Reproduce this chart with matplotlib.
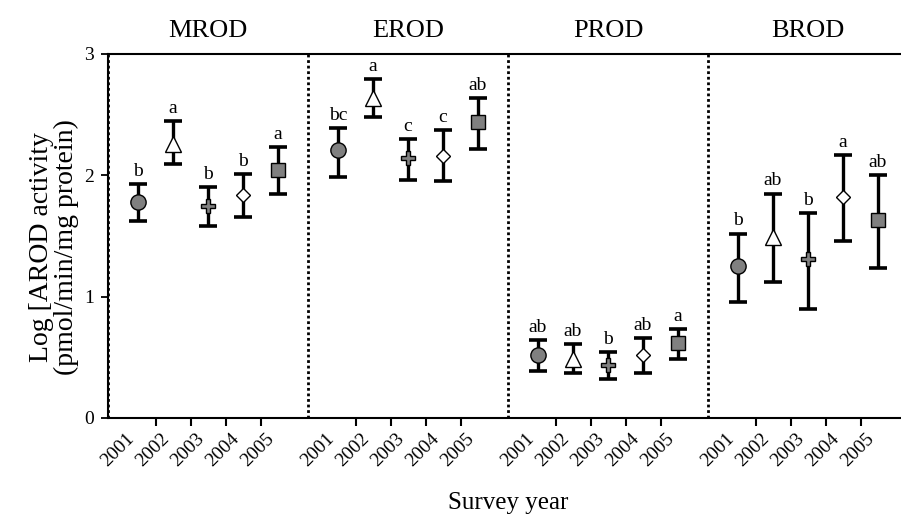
import matplotlib
matplotlib.use("Agg")
import matplotlib.pyplot as plt
import numpy as np

plt.rcParams['font.family'] = ['Liberation Serif', 'DejaVu Serif']

# ---- data ----
assays = ["MROD", "EROD", "PROD", "BROD"]
years = ["2001", "2002", "2003", "2004", "2005"]

mrod_mean = [1.78, 2.26, 1.75, 1.84, 2.04]
mrod_up   = [1.93, 2.45, 1.90, 2.01, 2.23]
mrod_lo   = [1.62, 2.09, 1.58, 1.66, 1.85]
mrod_let  = ["b", "a", "b", "b", "a"]

erod_mean = [2.21, 2.64, 2.14, 2.16, 2.44]
erod_up   = [2.39, 2.79, 2.30, 2.37, 2.64]
erod_lo   = [1.99, 2.48, 1.96, 1.95, 2.22]
erod_let  = ["bc", "a", "c", "c", "ab"]

prod_mean = [0.52, 0.49, 0.44, 0.52, 0.62]
prod_up   = [0.64, 0.61, 0.54, 0.66, 0.73]
prod_lo   = [0.39, 0.37, 0.32, 0.37, 0.49]
prod_let  = ["ab", "ab", "b", "ab", "a"]

brod_mean = [1.25, 1.49, 1.31, 1.82, 1.63]
brod_up   = [1.52, 1.85, 1.69, 2.17, 2.00]
brod_lo   = [0.96, 1.12, 0.90, 1.46, 1.24]
brod_let  = ["b", "ab", "b", "a", "ab"]

means = [mrod_mean, erod_mean, prod_mean, brod_mean]
uppers = [mrod_up, erod_up, prod_up, brod_up]
lowers = [mrod_lo, erod_lo, prod_lo, brod_lo]
letters = [mrod_let, erod_let, prod_let, brod_let]

# marker style per year
mk = ['o', '^', 'P', 'D', 's']
ms = [11, 11.5, 10.5, 7, 10]
fc = ['#808080', 'white', '#808080', 'white', '#808080']

W, H = 901, 514
fig = plt.figure(figsize=(W / 100, H / 100), dpi=100)
ax = fig.add_axes([108 / W, 96 / H, 800 / W, 364 / H])

offsets = 0.15 + 0.175 * np.arange(5)
xs_all, lab_all, minor_all = [], [], []
for p in range(4):
    xs = p + offsets
    for i in range(5):
        y = means[p][i]
        yerr = [[y - lowers[p][i]], [uppers[p][i] - y]]
        ax.errorbar([xs[i]], [y], yerr=yerr, fmt='none', ecolor='black',
                    elinewidth=2.4, capsize=6.5, capthick=2.6, zorder=2)
        ax.plot([xs[i]], [y], marker=mk[i], ms=ms[i], mfc=fc[i], mec='black',
                mew=1.0, ls='none', zorder=3)
        ax.annotate(letters[p][i], (xs[i], uppers[p][i]), xytext=(0, 3),
                    textcoords='offset points', ha='center', va='bottom',
                    fontsize=14)
    xs_all.extend(xs)
    lab_all.extend(years)
    minor_all.extend((xs[:-1] + xs[1:]) / 2)
    ax.text(p + 0.5, (418 - 37) / 364, assays[p], transform=ax.get_xaxis_transform(),
            ha='center', va='baseline', fontsize=19)

for b in [0, 1, 2, 3]:
    ax.axvline(b, color='black', ls=(0, (1, 1)), lw=2.0, zorder=1)

ax.set_xlim(0, 4)
ax.set_ylim(0, 3)
ax.set_yticks([0, 1, 2, 3])
ax.tick_params(axis='y', direction='out', length=5, width=1.3, labelsize=14, pad=5)
ax.set_xticks(xs_all)
ax.set_xticklabels(lab_all, rotation=45, ha='right', fontsize=14)
ax.set_xticks(minor_all, minor=True)
ax.tick_params(axis='x', which='major', length=0, pad=9)
ax.tick_params(axis='x', which='minor', direction='out', length=6, width=1.5)

for s in ['top', 'bottom', 'left']:
    ax.spines[s].set_linewidth(1.5)
ax.spines['right'].set_visible(False)

ax.set_ylabel("Log [AROD activity\n(pmol/min/mg protein)", fontsize=20,
              linespacing=1.0)
ax.yaxis.set_label_coords(-0.036, 0.47)
fig.text(508 / W, 5 / H, "Survey year", ha='center', va='baseline', fontsize=18)

fig.savefig("out.png", dpi=100)
